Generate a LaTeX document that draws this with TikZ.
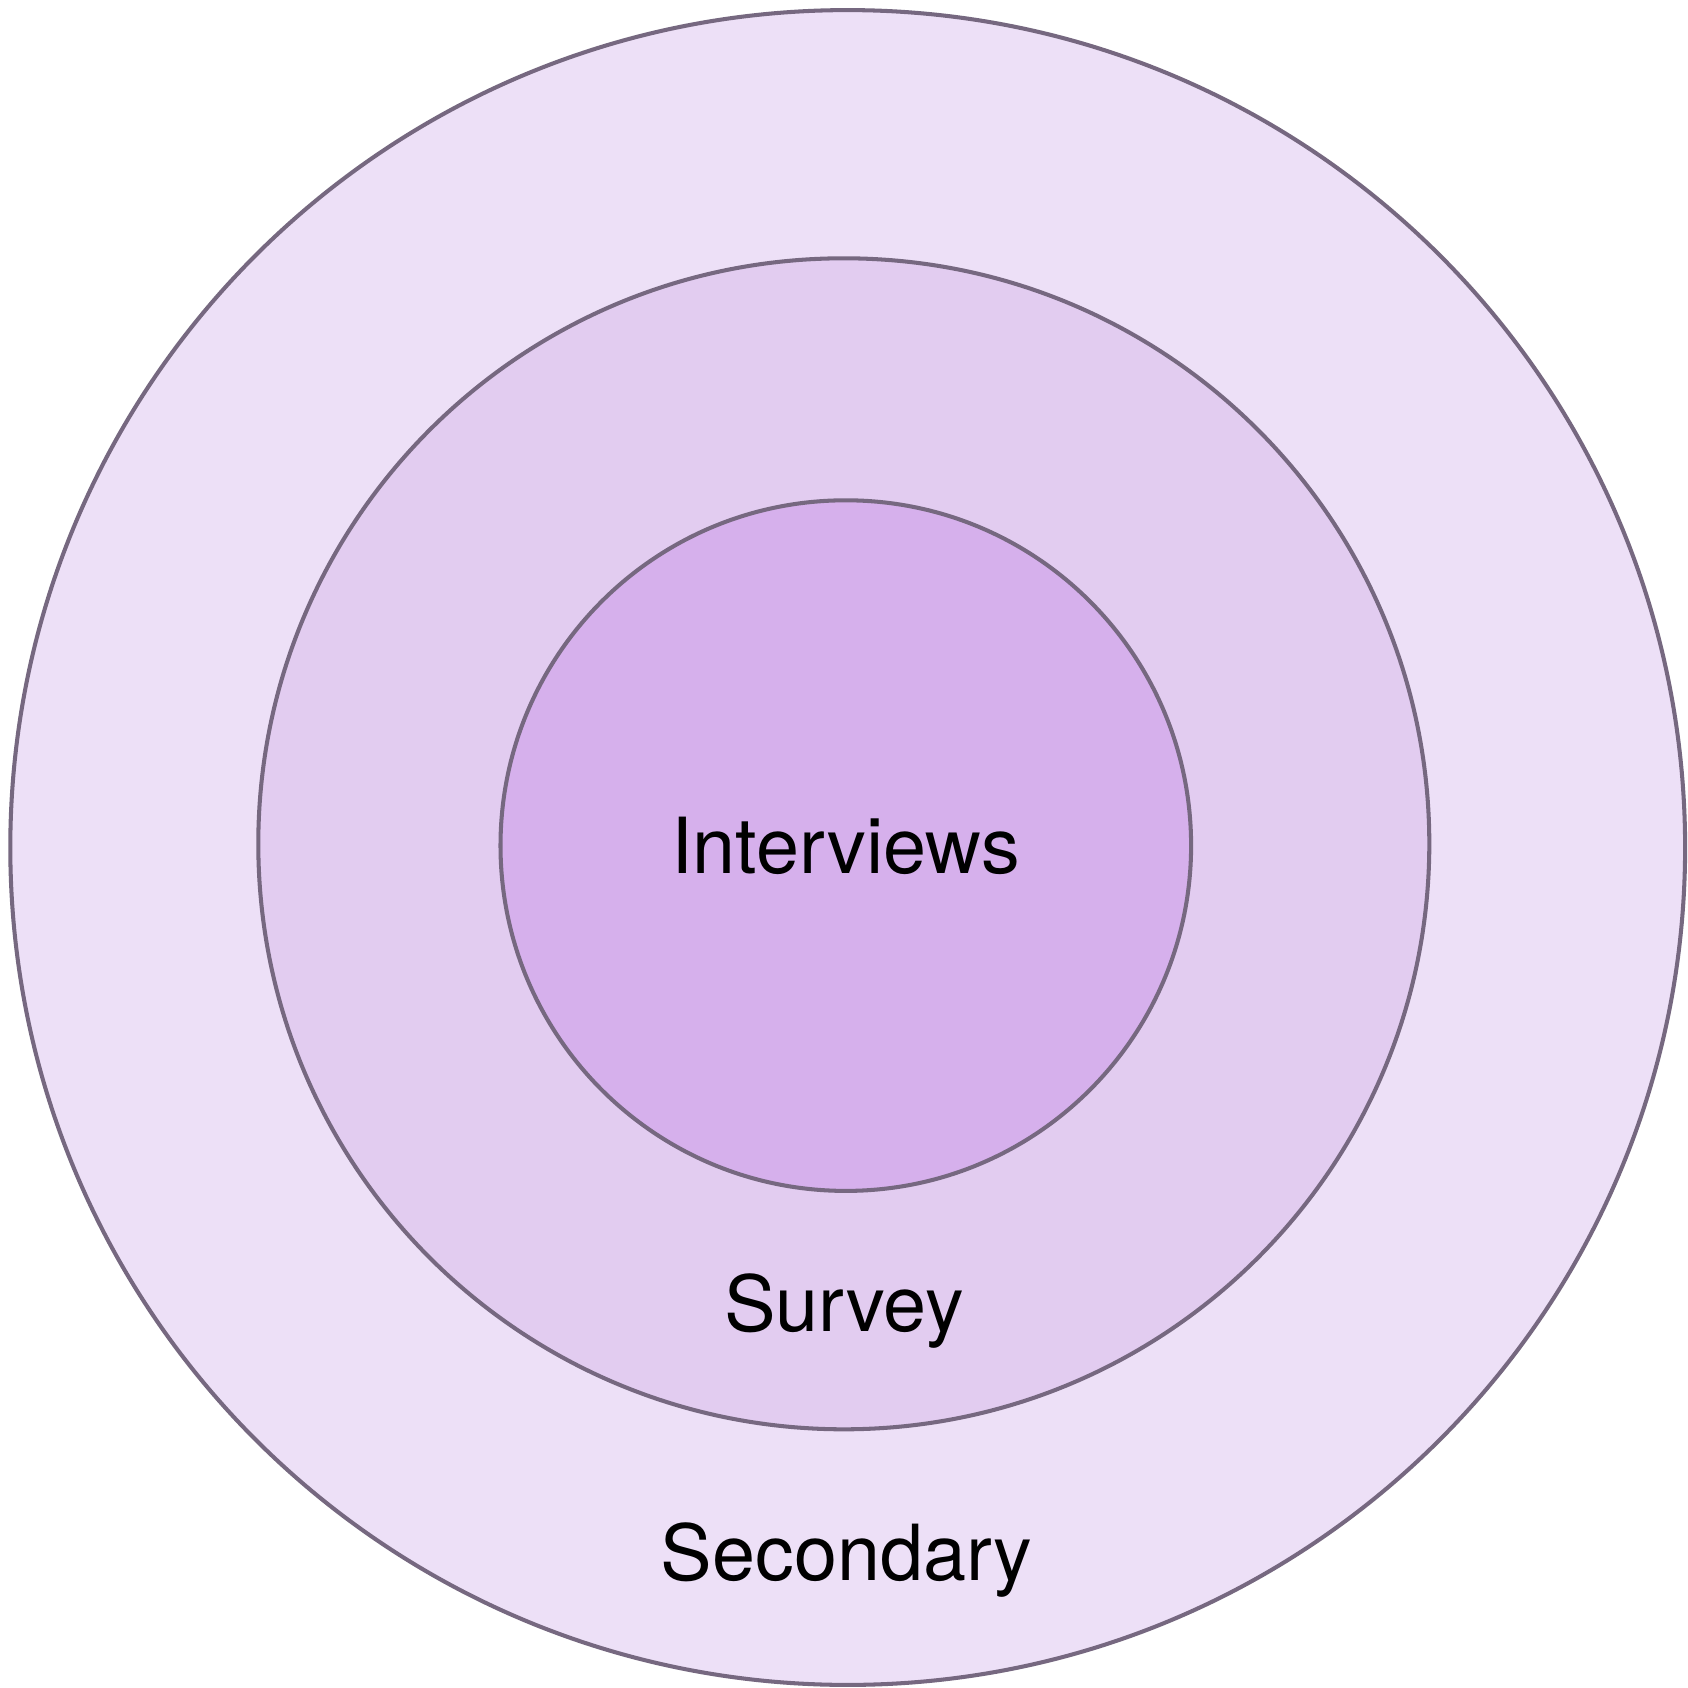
\documentclass[tikz,border=0pt]{standalone}
\usepackage{fontspec}
\setmainfont{TeX Gyre Heros}
\definecolor{outerfill}{RGB}{237,224,247}
\definecolor{midfill}{RGB}{226,204,240}
\definecolor{innerfill}{RGB}{214,176,236}
\definecolor{ringline}{RGB}{118,104,128}
\begin{document}
\begin{tikzpicture}[x=0.01cm,y=-0.01cm,
  ring/.style={draw=ringline,line width=1.15pt},
  lbl/.style={anchor=base,inner sep=0pt,font=\fontsize{22}{26}\selectfont,text=black}]
\useasboundingbox (0,0) rectangle (1688,1688);
\fill[white] (0,0) rectangle (1688,1688);
\path[ring,fill=outerfill] (847.7,847.5) circle[radius=837.4*0.01cm];
\path[ring,fill=midfill] (843.8,843.8) circle[radius=585.5*0.01cm];
\path[ring,fill=innerfill] (845.8,845.6) circle[radius=345.3*0.01cm];
\node[lbl] (interviews) at (845.5,873.3) {Interviews};
\node[lbl] (survey) at (844,1331.7) {Survey};
\node[lbl] (secondary) at (846.7,1580) {Secondary};
\end{tikzpicture}
\end{document}
